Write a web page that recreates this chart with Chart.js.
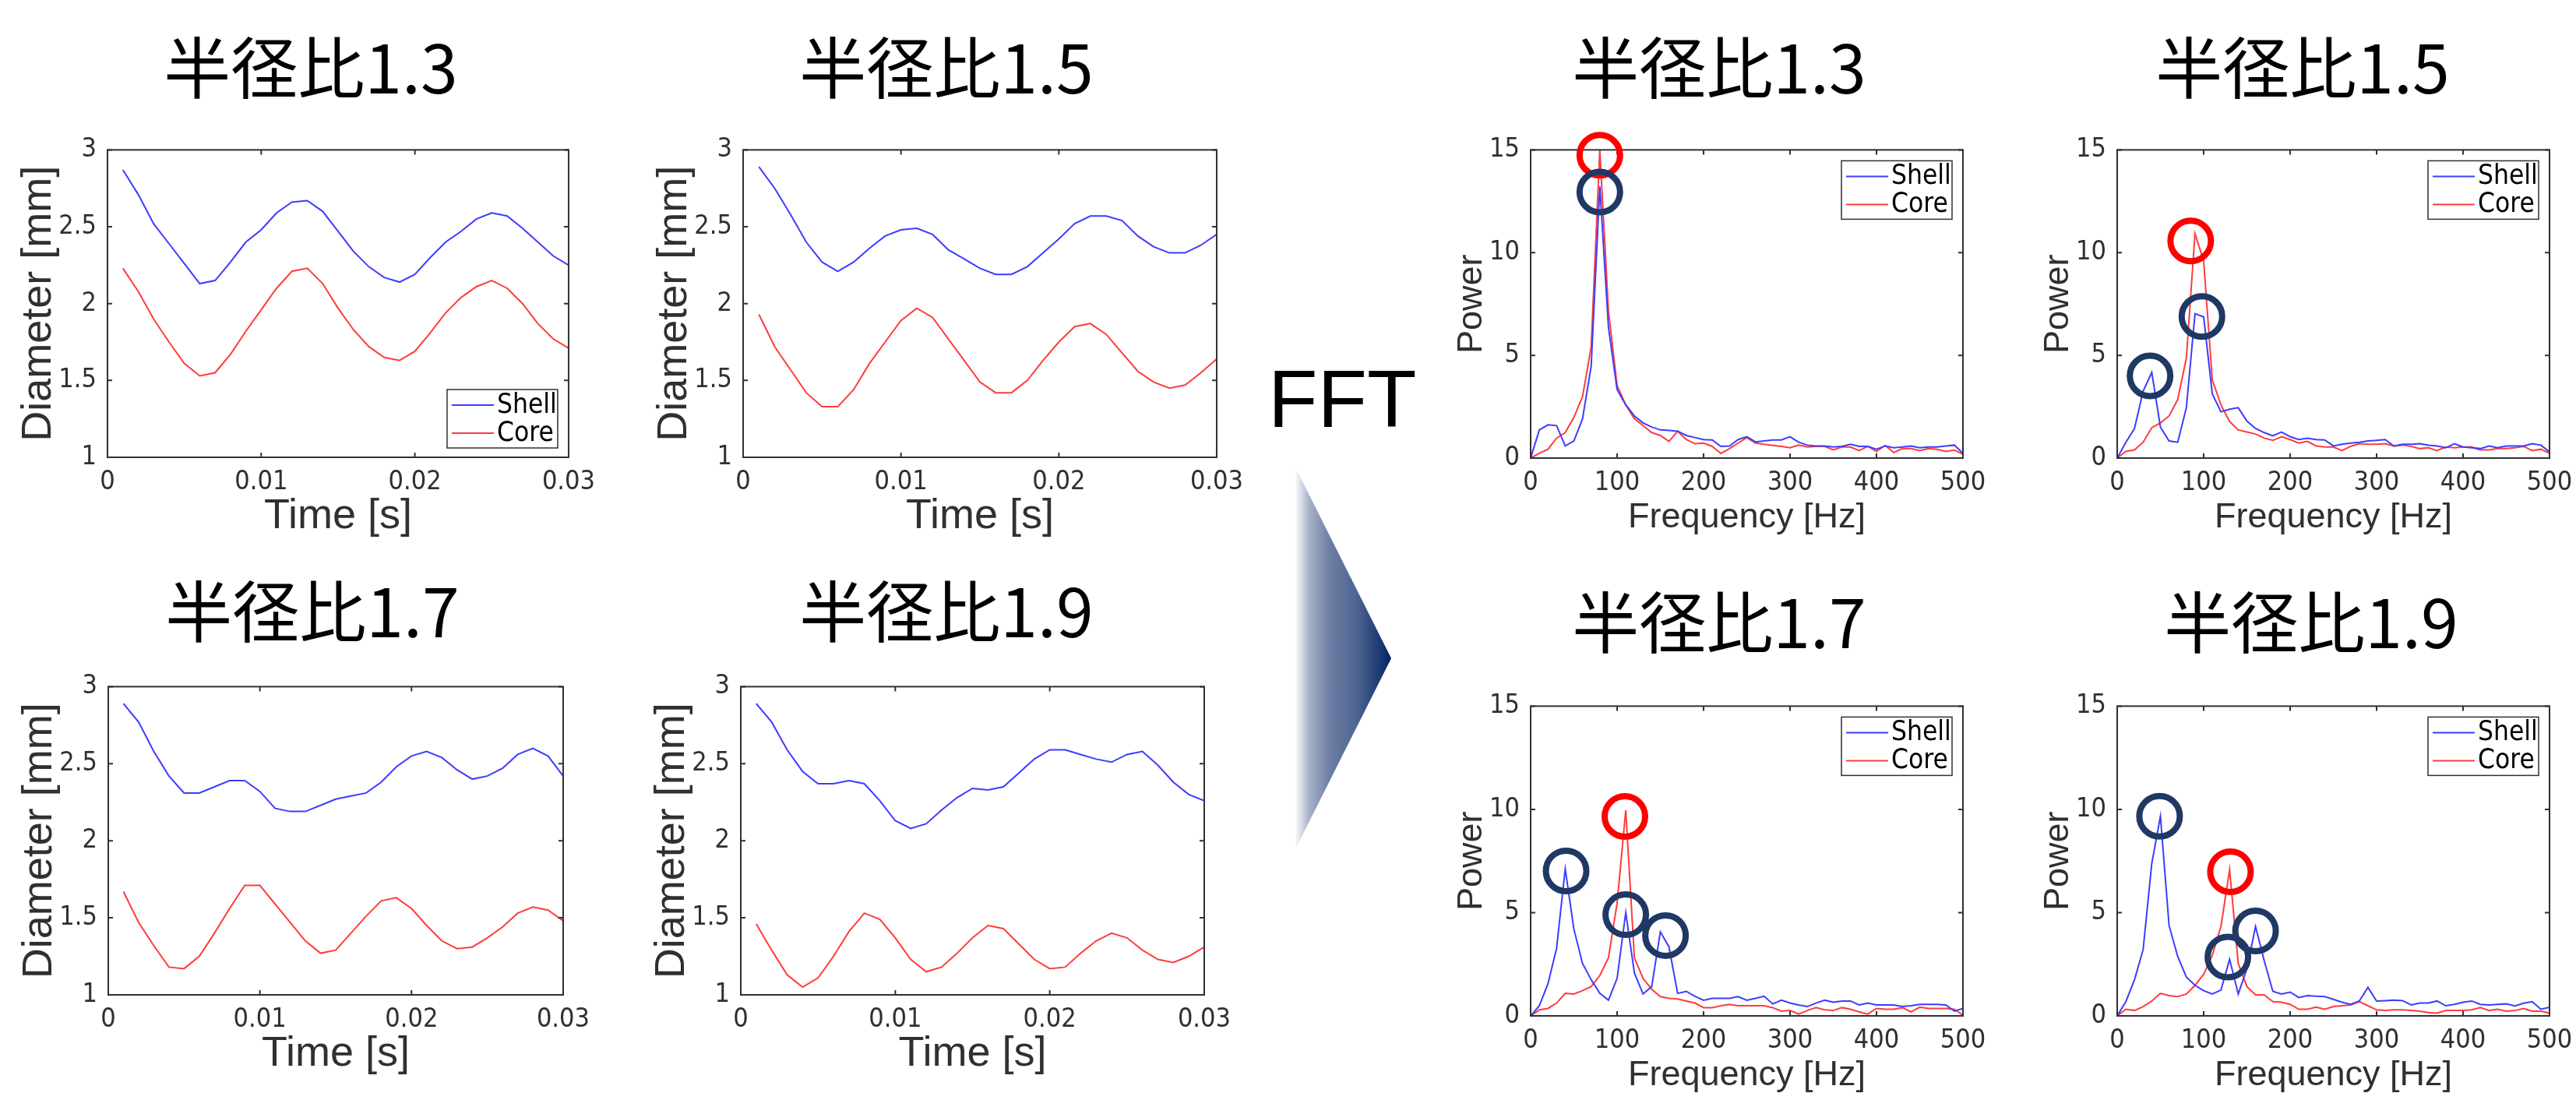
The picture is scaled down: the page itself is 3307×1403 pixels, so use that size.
<!DOCTYPE html>
<html lang="ja">
<head>
<meta charset="utf-8">
<title>半径比 FFT</title>
<script src="https://cdn.jsdelivr.net/npm/chart.js@4.4.1/dist/chart.umd.min.js"></script>
<style>
  body { margin: 0; background: #fff; }
  #stage { position: relative; width: 3307px; height: 1403px; overflow: hidden; background: #fff; }
  .ttl { position: absolute; font-family: "Noto Sans CJK JP", sans-serif; font-size: 86px; line-height: 86px;
         color: #000; white-space: nowrap; transform: translateX(-50%); }
  canvas { position: absolute; }
  #fft { position: absolute; left: 1628px; top: 460px; font-family: "Liberation Sans", Arial, sans-serif;
         font-size: 104px; line-height: 104px; color: #000; }
  #arrow { position: absolute; left: 0; top: 0; }
</style>
</head>
<body>
<div id="stage">
  <svg id="arrow" width="3307" height="1403">
    <defs>
      <linearGradient id="fade" gradientUnits="userSpaceOnUse" x1="1663" y1="0" x2="1786" y2="0">
        <stop offset="0" stop-color="#002060" stop-opacity="0.02"/>
        <stop offset="0.14" stop-color="#002060" stop-opacity="0.34"/>
        <stop offset="0.35" stop-color="#002060" stop-opacity="0.57"/>
        <stop offset="0.63" stop-color="#002060" stop-opacity="0.69"/>
        <stop offset="0.9" stop-color="#002060" stop-opacity="0.9"/>
        <stop offset="1" stop-color="#002060" stop-opacity="1"/>
      </linearGradient>
    </defs>
    <polygon points="1663,600 1786,845 1663,1090" fill="url(#fade)"/>
  </svg>
  <div id="fft">FFT</div>
</div>
<script>
// ---- data ----
const ratioLabels = ['半径比1.3', '半径比1.5', '半径比1.7', '半径比1.9'];
const seriesNames = ['Shell', 'Core'];

// time axis [s]
const timeS = [0.001, 0.002, 0.003, 0.004, 0.005, 0.006, 0.007, 0.008, 0.009, 0.010,
               0.011, 0.012, 0.013, 0.014, 0.015, 0.016, 0.017, 0.018, 0.019, 0.020,
               0.021, 0.022, 0.023, 0.024, 0.025, 0.026, 0.027, 0.028, 0.029, 0.030];

// diameter [mm]
const shell13 = [2.87, 2.71, 2.52, 2.39, 2.26, 2.13, 2.15, 2.27, 2.40, 2.48, 2.59, 2.66, 2.67, 2.60, 2.47,
                 2.34, 2.24, 2.17, 2.14, 2.19, 2.30, 2.40, 2.47, 2.55, 2.59, 2.57, 2.49, 2.40, 2.31, 2.25];
const core13  = [2.23, 2.08, 1.90, 1.75, 1.61, 1.53, 1.55, 1.67, 1.82, 1.96, 2.10, 2.21, 2.23, 2.13, 1.97,
                 1.83, 1.72, 1.65, 1.63, 1.69, 1.81, 1.94, 2.04, 2.11, 2.15, 2.10, 2.00, 1.87, 1.77, 1.71];
const shell15 = [2.89, 2.75, 2.58, 2.40, 2.27, 2.21, 2.27, 2.36, 2.44, 2.48, 2.49, 2.45, 2.35, 2.29, 2.23,
                 2.19, 2.19, 2.24, 2.33, 2.42, 2.52, 2.57, 2.57, 2.54, 2.44, 2.37, 2.33, 2.33, 2.38, 2.45];
const core15  = [1.93, 1.72, 1.57, 1.42, 1.33, 1.33, 1.44, 1.61, 1.75, 1.89, 1.97, 1.91, 1.77, 1.63, 1.49,
                 1.42, 1.42, 1.50, 1.63, 1.75, 1.85, 1.87, 1.80, 1.68, 1.56, 1.49, 1.45, 1.47, 1.55, 1.64];
const shell17 = [2.89, 2.77, 2.58, 2.42, 2.31, 2.31, 2.35, 2.39, 2.39, 2.32, 2.21, 2.19, 2.19, 2.23, 2.27,
                 2.29, 2.31, 2.38, 2.48, 2.55, 2.58, 2.54, 2.46, 2.40, 2.42, 2.47, 2.56, 2.60, 2.55, 2.42];
const core17  = [1.67, 1.47, 1.32, 1.18, 1.17, 1.25, 1.40, 1.56, 1.71, 1.71, 1.59, 1.47, 1.35, 1.27, 1.29,
                 1.40, 1.51, 1.61, 1.63, 1.56, 1.45, 1.35, 1.30, 1.31, 1.37, 1.44, 1.53, 1.57, 1.55, 1.48];
const shell19 = [2.89, 2.77, 2.59, 2.45, 2.37, 2.37, 2.39, 2.37, 2.26, 2.13, 2.08, 2.11, 2.20, 2.28, 2.34,
                 2.33, 2.35, 2.44, 2.53, 2.59, 2.59, 2.56, 2.53, 2.51, 2.56, 2.58, 2.49, 2.38, 2.30, 2.26];
const core19  = [1.46, 1.29, 1.13, 1.05, 1.11, 1.25, 1.41, 1.53, 1.49, 1.37, 1.23, 1.15, 1.18, 1.27, 1.37,
                 1.45, 1.43, 1.33, 1.23, 1.17, 1.18, 1.27, 1.35, 1.40, 1.37, 1.29, 1.23, 1.21, 1.25, 1.31];

// frequency axis [Hz]
const freqHz = [0, 10, 20, 30, 40, 50, 60, 70, 80, 90, 100, 110, 120, 130, 140, 150, 160, 170, 180, 190,
                200, 210, 220, 230, 240, 250, 260, 270, 280, 290, 300, 310, 320, 330, 340, 350, 360, 370,
                380, 390, 400, 410, 420, 430, 440, 450, 460, 470, 480, 490, 500];

// power spectra
const shellFft13 = [0, 1.37, 1.62, 1.58, 0.59, 0.83, 1.91, 4.47, 13.22, 6.36,
                    3.33, 2.59, 2.05, 1.71, 1.51, 1.37, 1.35, 1.31, 1.10, 1.00,
                    0.90, 0.88, 0.57, 0.59, 0.90, 1.04, 0.79, 0.83, 0.88, 0.88,
                    1.04, 0.77, 0.63, 0.59, 0.59, 0.54, 0.57, 0.67, 0.57, 0.57,
                    0.43, 0.59, 0.50, 0.54, 0.59, 0.50, 0.54, 0.54, 0.59, 0.63, 0.23];
const coreFft13  = [0, 0.23, 0.43, 0.97, 1.24, 1.98, 2.99, 5.41, 15.0, 7.16,
                    3.53, 2.59, 1.91, 1.58, 1.24, 1.10, 0.81, 1.31, 0.90, 0.70,
                    0.73, 0.57, 0.23, 0.46, 0.73, 1.00, 0.73, 0.67, 0.62, 0.57,
                    0.50, 0.63, 0.54, 0.57, 0.57, 0.40, 0.54, 0.54, 0.36, 0.57,
                    0.32, 0.62, 0.27, 0.46, 0.46, 0.36, 0.46, 0.43, 0.32, 0.39, 0.19];
const shellFft15 = [0, 0.77, 1.44, 3.26, 4.17, 1.51, 0.83, 0.77, 2.45, 7.03,
                    6.87, 3.12, 2.25, 2.38, 2.45, 1.80, 1.44, 1.24, 1.08, 1.27,
                    1.04, 0.90, 0.97, 0.90, 0.88, 0.59, 0.67, 0.73, 0.77, 0.83,
                    0.86, 0.90, 0.59, 0.67, 0.67, 0.70, 0.63, 0.59, 0.50, 0.70,
                    0.54, 0.50, 0.46, 0.59, 0.50, 0.59, 0.59, 0.59, 0.70, 0.63, 0.30];
const coreFft15  = [0, 0.32, 0.40, 0.77, 1.48, 1.71, 2.05, 2.85, 4.87, 10.93,
                    9.59, 3.80, 2.59, 1.78, 1.37, 1.27, 1.17, 0.97, 0.86, 1.04,
                    0.90, 0.73, 0.81, 0.59, 0.54, 0.54, 0.36, 0.57, 0.70, 0.67,
                    0.67, 0.70, 0.59, 0.63, 0.57, 0.46, 0.50, 0.36, 0.54, 0.50,
                    0.54, 0.54, 0.40, 0.40, 0.46, 0.46, 0.50, 0.57, 0.36, 0.43, 0.23];
const shellFft17 = [0, 0.49, 1.55, 3.27, 7.12, 4.20, 2.54, 1.75, 1.09, 0.76,
                    1.82, 5.00, 2.08, 1.06, 1.42, 4.07, 3.34, 1.09, 1.19, 0.95,
                    0.76, 0.85, 0.85, 0.85, 0.93, 0.76, 0.85, 0.95, 0.58, 0.76,
                    0.62, 0.53, 0.45, 0.62, 0.76, 0.66, 0.72, 0.72, 0.53, 0.62,
                    0.53, 0.53, 0.53, 0.45, 0.49, 0.56, 0.56, 0.56, 0.53, 0.23, 0.36];
const coreFft17  = [0, 0.29, 0.36, 0.62, 1.09, 1.06, 1.22, 1.42, 1.95, 2.81,
                    5.46, 9.96, 2.81, 1.82, 1.29, 0.93, 0.85, 0.82, 0.72, 0.62,
                    0.40, 0.40, 0.49, 0.56, 0.49, 0.49, 0.49, 0.49, 0.40, 0.23,
                    0.26, 0.09, 0.26, 0.40, 0.29, 0.26, 0.40, 0.32, 0.19, 0.09,
                    0.36, 0.32, 0.32, 0.40, 0.19, 0.42, 0.36, 0.36, 0.36, 0.32, 0.03];
const shellFft19 = [0, 0.69, 1.75, 3.21, 7.38, 9.67, 4.37, 2.88, 1.88, 1.48,
                    1.22, 1.06, 1.25, 2.74, 1.06, 2.28, 4.33, 2.68, 1.19, 1.06,
                    1.15, 0.89, 0.98, 0.95, 0.93, 0.80, 0.66, 0.56, 0.72, 1.38,
                    0.72, 0.74, 0.76, 0.74, 0.53, 0.62, 0.62, 0.72, 0.49, 0.56,
                    0.66, 0.72, 0.56, 0.53, 0.56, 0.58, 0.48, 0.61, 0.69, 0.32, 0.42];
const coreFft19  = [0, 0.32, 0.26, 0.45, 0.72, 1.09, 0.98, 0.93, 1.06, 1.48,
                    2.01, 2.94, 4.33, 7.08, 2.54, 1.42, 1.02, 1.02, 0.69, 0.66,
                    0.56, 0.32, 0.32, 0.42, 0.32, 0.45, 0.49, 0.53, 0.69, 0.49,
                    0.29, 0.26, 0.29, 0.29, 0.26, 0.23, 0.16, 0.13, 0.26, 0.26,
                    0.26, 0.29, 0.40, 0.26, 0.32, 0.23, 0.26, 0.36, 0.23, 0.23, 0.13];

// circled peaks: [frequency Hz, power, series]
const peaks13 = [[80, 14.74, 'Core'], [80, 12.95, 'Shell']];
const peaks15 = [[85, 10.57, 'Core'], [98, 6.89, 'Shell'], [38, 4.0, 'Shell']];
const peaks17 = [[109, 9.66, 'Core'], [41, 7.02, 'Shell'], [110, 4.9, 'Shell'], [156, 3.89, 'Shell']];
const peaks19 = [[131, 6.98, 'Core'], [49, 9.67, 'Shell'], [128, 2.85, 'Shell'], [160, 4.11, 'Shell']];

// axis ticks
const timeTicks = [0, 0.01, 0.02, 0.03];
const timeTickLabels = ['0', '0.01', '0.02', '0.03'];
const diamTicks = [1, 1.5, 2, 2.5, 3];
const diamTickLabels = ['1', '1.5', '2', '2.5', '3'];
const freqTicks = [0, 100, 200, 300, 400, 500];
const freqTickLabels = ['0', '100', '200', '300', '400', '500'];
const powerTicks = [0, 5, 10, 15];
const powerTickLabels = ['0', '5', '10', '15'];

// ---- styling ----
const SHELL_COLOR = 'rgb(60, 60, 255)';
const CORE_COLOR = 'rgb(255, 60, 60)';
const AXIS_COLOR = '#303030';
const TICK_FONT = { family: '"Liberation Sans Narrow", "DejaVu Sans Condensed", sans-serif', size: 34 };
const LEGEND_FONT = '35px "Liberation Sans Narrow", "DejaVu Sans Condensed", sans-serif';
const TICK_LEN = 6;
const PAD_TOP = 25, PAD_RIGHT = 45;

const shellTime = [shell13, shell15, shell17, shell19];
const coreTime = [core13, core15, core17, core19];
const shellFft = [shellFft13, shellFft15, shellFft17, shellFft19];
const coreFft = [coreFft13, coreFft15, coreFft17, coreFft19];
const peakSets = [peaks13, peaks15, peaks17, peaks19];

// panel placement on the page (plot box edges in px)
const panels = [
    { kind: 'time', r: 0, l: 138, t: 183, rt: 731, b: 587, tx: 399, ty: 40, legend: 'se' },
    { kind: 'time', r: 1, l: 954, t: 183, rt: 1563, b: 587, tx: 1215, ty: 40 },
    { kind: 'time', r: 2, l: 139, t: 872, rt: 724, b: 1277, tx: 401, ty: 738 },
    { kind: 'time', r: 3, l: 951, t: 872, rt: 1547, b: 1277, tx: 1215, ty: 738 },
    { kind: 'fft', r: 0, l: 1965, t: 183, rt: 2520, b: 588, tx: 2207, ty: 40, legend: 'ne' },
    { kind: 'fft', r: 1, l: 2718, t: 183, rt: 3273, b: 588, tx: 2956, ty: 40, legend: 'ne' },
    { kind: 'fft', r: 2, l: 1965, t: 897, rt: 2520, b: 1304, tx: 2207, ty: 752, legend: 'ne' },
    { kind: 'fft', r: 3, l: 2718, t: 897, rt: 3273, b: 1304, tx: 2967, ty: 752, legend: 'ne' }
];

function toPoints(xs, ys) {
    return xs.map((x, i) => ({ x: x, y: ys[i] }));
}

// draws the MATLAB-style box, inward ticks, peak circles and legend
function framePlugin(p, peaks) {
    return {
        id: 'frame',
        afterDatasetsDraw(chart) {
            const ctx = chart.ctx;
            const a = chart.chartArea;
            const xs = chart.scales.x, ys = chart.scales.y;
            ctx.save();
            ctx.strokeStyle = AXIS_COLOR;
            ctx.lineWidth = 2;
            ctx.strokeRect(a.left, a.top, a.right - a.left, a.bottom - a.top);
            ctx.beginPath();
            xs.ticks.forEach(t => {
                const x = xs.getPixelForValue(t.value);
                ctx.moveTo(x, a.bottom); ctx.lineTo(x, a.bottom - TICK_LEN);
                ctx.moveTo(x, a.top); ctx.lineTo(x, a.top + TICK_LEN);
            });
            ys.ticks.forEach(t => {
                const y = ys.getPixelForValue(t.value);
                ctx.moveTo(a.left, y); ctx.lineTo(a.left + TICK_LEN, y);
                ctx.moveTo(a.right, y); ctx.lineTo(a.right - TICK_LEN, y);
            });
            ctx.stroke();

            // circled peaks
            if (peaks) {
                ctx.lineWidth = 8;
                peaks.forEach(pk => {
                    ctx.strokeStyle = pk[2] === 'Core' ? '#ff0000' : '#1f3864';
                    ctx.beginPath();
                    ctx.arc(xs.getPixelForValue(pk[0]), ys.getPixelForValue(pk[1]), 26, 0, Math.PI * 2);
                    ctx.stroke();
                });
            }

            // legend box
            if (p.legend) {
                const w = 142, h = 75;
                const bx = a.right - 14 - w;
                const by = p.legend === 'ne' ? a.top + 14 : a.bottom - 12 - h;
                ctx.fillStyle = '#fff';
                ctx.fillRect(bx, by, w, h);
                ctx.strokeStyle = AXIS_COLOR;
                ctx.lineWidth = 1.5;
                ctx.strokeRect(bx, by, w, h);
                ctx.font = LEGEND_FONT;
                ctx.textBaseline = 'middle';
                ctx.textAlign = 'left';
                [SHELL_COLOR, CORE_COLOR].forEach((c, i) => {
                    const y = by + 20 + i * 36;
                    ctx.strokeStyle = c;
                    ctx.lineWidth = 2;
                    ctx.beginPath();
                    ctx.moveTo(bx + 6, y); ctx.lineTo(bx + 60, y);
                    ctx.stroke();
                    ctx.fillStyle = '#000';
                    ctx.fillText(seriesNames[i], bx + 64, y + 1);
                });
            }
            ctx.restore();
        }
    };
}

function makePanel(p) {
    const isTime = p.kind === 'time';
    // axis title size differs between the time plots and the spectra
    const labelFont = { family: '"Liberation Sans", Arial, sans-serif', size: isTime ? 54 : 45 };
    const half = Math.round(labelFont.size * 0.6);
    const yAxisW = (isTime ? 88 : 75) + half;
    const xAxisH = 77 + half;
    const xVals = isTime ? timeS : freqHz;
    const shell = isTime ? shellTime[p.r] : shellFft[p.r];
    const core = isTime ? coreTime[p.r] : coreFft[p.r];
    const xTicks = isTime ? timeTicks : freqTicks;
    const xLabels = isTime ? timeTickLabels : freqTickLabels;
    const yTicks = isTime ? diamTicks : powerTicks;
    const yLabels = isTime ? diamTickLabels : powerTickLabels;

    // title
    const title = document.createElement('div');
    title.className = 'ttl';
    title.textContent = ratioLabels[p.r];
    title.style.left = p.tx + 'px';
    title.style.top = p.ty + 'px';
    document.getElementById('stage').appendChild(title);

    const canvas = document.createElement('canvas');
    canvas.width = yAxisW + (p.rt - p.l) + PAD_RIGHT;
    canvas.height = PAD_TOP + (p.b - p.t) + xAxisH;
    canvas.style.left = (p.l - yAxisW) + 'px';
    canvas.style.top = (p.t - PAD_TOP) + 'px';
    document.getElementById('stage').appendChild(canvas);

    new Chart(canvas.getContext('2d'), {
        type: 'line',
        data: {
            datasets: [
                { label: seriesNames[0], data: toPoints(xVals, shell), borderColor: SHELL_COLOR, borderWidth: 2 },
                { label: seriesNames[1], data: toPoints(xVals, core), borderColor: CORE_COLOR, borderWidth: 2 }
            ]
        },
        options: {
            responsive: false,
            animation: false,
            devicePixelRatio: 1,
            layout: { padding: { top: PAD_TOP, right: PAD_RIGHT, left: 0, bottom: 0 } },
            elements: { point: { radius: 0 }, line: { tension: 0, fill: false } },
            plugins: { legend: { display: false }, tooltip: { enabled: false } },
            scales: {
                x: {
                    type: 'linear',
                    min: xTicks[0],
                    max: xTicks[xTicks.length - 1],
                    afterBuildTicks: s => { s.ticks = xTicks.map(v => ({ value: v })); },
                    afterFit: s => { s.height = xAxisH; },
                    grid: { display: false, drawTicks: false },
                    border: { display: false },
                    ticks: {
                        font: TICK_FONT, color: AXIS_COLOR, padding: 12, maxRotation: 0, autoSkip: false,
                        callback: v => xLabels[xTicks.indexOf(v)]
                    },
                    title: { display: true, text: isTime ? 'Time [s]' : 'Frequency [Hz]', font: labelFont, color: AXIS_COLOR, padding: 0 }
                },
                y: {
                    type: 'linear',
                    min: yTicks[0],
                    max: yTicks[yTicks.length - 1],
                    afterBuildTicks: s => { s.ticks = yTicks.map(v => ({ value: v })); },
                    afterFit: s => { s.width = yAxisW; },
                    grid: { display: false, drawTicks: false },
                    border: { display: false },
                    ticks: {
                        font: TICK_FONT, color: AXIS_COLOR, padding: 14, autoSkip: false,
                        callback: v => yLabels[yTicks.indexOf(v)]
                    },
                    title: { display: true, text: isTime ? 'Diameter [mm]' : 'Power', font: labelFont, color: AXIS_COLOR, padding: 0 }
                }
            }
        },
        plugins: [framePlugin(p, isTime ? null : peakSets[p.r])]
    });
}

panels.forEach(makePanel);
</script>
</body>
</html>
